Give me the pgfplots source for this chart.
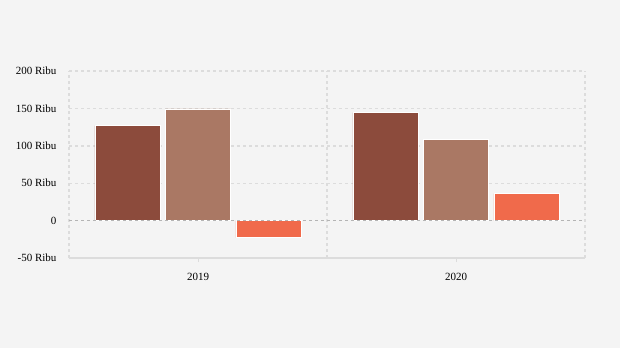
\documentclass[border=0pt]{standalone}
\usepackage{pgfplots}
\pgfplotsset{compat=1.18}
\usepackage{fontspec}
\setmainfont{Liberation Serif}
\definecolor{bg}{HTML}{F4F4F4}
\definecolor{gridc}{HTML}{DCDCDC}
\definecolor{zeroc}{HTML}{B4B4B4}
\definecolor{cA}{HTML}{8C4B3C}
\definecolor{cB}{HTML}{AA7864}
\definecolor{cC}{HTML}{F06A4B}
\begin{document}
\begin{tikzpicture}[x=1pt,y=1pt]
\fill[bg] (0,0) rectangle (620,348);
\begin{axis}[
  at={(69pt,90pt)}, anchor=south west,
  scale only axis, width=516pt, height=187pt,
  xmin=-0.5, xmax=1.5, ymin=-50, ymax=200,
  axis line style={draw=none},
  xtick={0,1}, xticklabels={2019,2020},
  minor xtick={-0.5,0.5,1.5},
  xminorgrids=true, xmajorgrids=false, ymajorgrids=true,
  ytick={-50,0,50,100,150,200},
  yticklabels={-50 Ribu,0,50 Ribu,100 Ribu,150 Ribu,200 Ribu},
  grid style={gridc, dash pattern=on 3pt off 3pt, line width=1.4pt},
  minor grid style={gridc, dash pattern=on 3pt off 3pt, line width=1.4pt},
  x tick style={draw=gridc, line width=1pt},
  major tick length=4pt, tickpos=left, xtick align=outside,
  minor tick length=0pt,
  ytick style={draw=none},
  tick label style={font=\fontsize{11}{13}\selectfont, text=black},
  yticklabel shift=9pt,
  xticklabel shift=8pt,
  clip=false,
  ybar, bar width=0.253, bar shift=0,
]
\draw[gridc, line width=1.2pt] (axis cs:-0.5,-50) -- (axis cs:1.5,-50);
\addplot[fill=cA, draw=white, line width=0.4pt] coordinates {(-0.273,126.9) (0.727,144.3)};
\addplot[fill=cB, draw=white, line width=0.4pt] coordinates {(0,149.2) (1,108.2)};
\addplot[fill=cC, draw=white, line width=0.4pt] coordinates {(0.273,-22.8) (1.273,36.0)};
\draw[zeroc, dash pattern=on 3pt off 3pt, line width=1.5pt] (axis cs:-0.5,0) -- (axis cs:1.5,0);
\end{axis}
\end{tikzpicture}
\end{document}
